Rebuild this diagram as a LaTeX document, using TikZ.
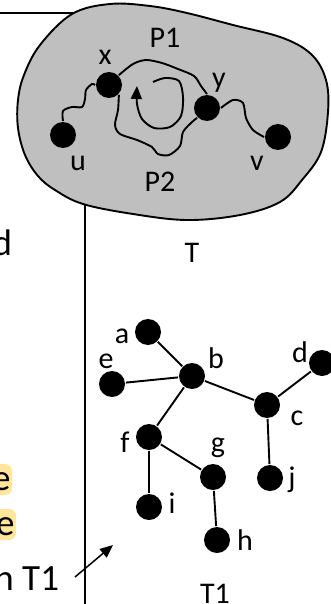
\documentclass[tikz,border=0pt]{standalone}
\usepackage{fontspec}
\setmainfont{Carlito}
\usetikzlibrary{arrows.meta}
\definecolor{hlyellow}{RGB}{255,230,153}
\begin{document}
\begin{tikzpicture}[
  x=1pt, y=-1pt, line width=1.9pt,
  dot/.style={circle, fill=black, inner sep=0pt, minimum size=26pt},
  lbl/.style={anchor=base, inner sep=0pt, font=\fontsize{30}{32}\selectfont},
  side/.style={anchor=base east, inner sep=0pt, font=\fontsize{37}{40}\selectfont},
  hl/.style={side, fill=hlyellow, rounded corners=7pt, inner xsep=1.5pt,
             text height=26pt, text depth=5pt},
  tip/.style={-{Triangle[length=13pt, width=11pt]}}
]
\useasboundingbox (0,0) rectangle (331,604);
\clip (0,0) rectangle (331,604);

%% Slide frame lines
\draw (0,13) -- (80,13);
\draw (85,190) -- (85,604);

%% Cut-off slide text on the left
\node[side] (txt-d) at (13,255) {d};
\node[hl] (txt-e1) at (13,490) {e};
\node[hl] (txt-e2) at (17,535) {e};
\node[side] (txt-t1) at (60,590) {n T1};
\coordinate (arr-s) at (75,577);
\coordinate (arr-e) at (113,545);
\draw[tip, line width=1.5pt] (arr-s) -- (arr-e);

%% Tree T (blob)
\draw[fill=gray!50] plot[smooth cycle, tension=0.6] coordinates {
  (72,14) (110,4) (150,6) (187,13) (233,25) (283,38) (312,55) (326,80)
  (328,112) (321,152) (302,180) (280,202) (240,215) (187,220) (133,214)
  (83,204) (55,190) (38,176) (25,155) (18,128) (18,100) (24,75) (40,45)};

\foreach \n/\x/\y in {u/63/135, x/109/85, y/207/108, v/278/137}{
  \node[dot] (\n) at (\x,\y) {};
}
\draw plot[smooth] coordinates {(u.north) (63,111) (72,107) (82,107)
  (85,99) (86,90) (92,84) (x.west)};
\draw plot[smooth] coordinates {(x.north east) (133,64) (146,60) (162,63)
  (178,69) (194,76) (201,86) (y.north)};
\draw plot[smooth] coordinates {(x.south east) (118,110) (115,125) (120,134)
  (137,140) (152,147) (158,154) (169,155) (180,146) (183,132) (192,122)
  (y.south west)};
\draw plot[smooth] coordinates {(y.east) (233,100) (243,103) (246,118)
  (253,130) (v.west)};

%% cycle arrow inside
\draw[tip] plot[smooth] coordinates {(153,82) (165,78) (179,81) (183,97)
  (181,116) (170,127) (154,128) (142,119) (137,104) (137,86)};

\node[lbl] (lab-x)  at (105,65)  {x};
\node[lbl] (lab-p1) at (165,48)  {P1};
\node[lbl] (lab-y)  at (219,88)  {y};
\node[lbl] (lab-u)  at (78,170)  {u};
\node[lbl] (lab-p2) at (160,191) {P2};
\node[lbl] (lab-v)  at (257,170) {v};
\node[lbl] (lab-t)  at (192,262) {T};

%% Tree T1
\foreach \n/\x/\y/\lx/\ly in {a/148/332/122/343, b/192/376/216/368,
    e/112/384/106/368, d/322/363/300/362, c/267/405/297/425,
    f/149/437/125/452, g/213/477/218/452, j/270/478/292/487,
    i/149/507/172/513, h/217/540/245/550}{
  \node[dot] (\n) at (\x,\y) {};
  \node[lbl] (lab-\n) at (\lx,\ly) {\n};
}
\foreach \s/\t in {a/b, e/b, b/c, c/d, b/f, f/g, f/i, g/h, c/j}{
  \draw (\s) -- (\t);
}
\node[lbl] (lab-t1) at (215,603) {T1};

\end{tikzpicture}
\end{document}
